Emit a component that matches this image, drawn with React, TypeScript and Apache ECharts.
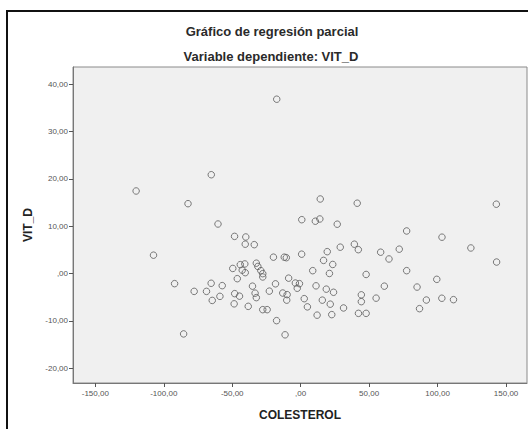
import React, { useEffect, useRef } from "react";
import * as echarts from "echarts";

// COLESTEROL (residual) values
const colesterol: number[] = [
  -120.2, -107.5, -65.3, -82.3, -60.4, -48.3, -40.1, -40.5, -33.9,
  14.3, 41.3, 142.9, 0.8, 10.7, 14.0, 26.7, 77.4, 103.2, 124.3, 143.1,
  28.9, 39.2, 42.1, 58.4, 64.5, 72.0,
  0.7, 19.4, 16.7, 23.4, 8.8, 21.0, 47.8, 77.4, 99.4, 85.0, 61.1,
  -3.9, -0.9, -2.5, 11.2, 18.7, 24.0, 2.6, 15.8, 21.6, 4.9, 31.3, 12.0, 22.7,
  44.3, 44.3, 55.1, 42.2, 47.8, 91.8, 103.1, 111.6, 86.8,
  -92.1, -77.8, -68.8, -65.4, -57.3, -64.6, -59.0,
  -49.6, -46.3, -44.1, -40.8, -42.7, -40.5, -32.4, -31.3, -29.1, -27.7, -27.7,
  -35.2, -33.3, -32.4, -48.2, -44.7, -48.6, -38.3, -27.7, -24.5,
  -22.9, -18.4, -19.9, -12.0, -10.5, -17.6, -11.4, -13.1, -9.9, -10.2, -8.8,
  -85.5, -17.5,
];

// VIT_D (residual) values
const vitD: number[] = [
  17.43, 3.88, 20.86, 14.75, 10.46, 7.85, 7.72, 6.2, 6.1,
  15.74, 14.85, 14.64, 11.37, 11.05, 11.52, 10.42, 8.99, 7.68, 5.4, 2.43,
  5.57, 6.2, 5.04, 4.51, 3.08, 5.15,
  4.09, 4.62, 2.78, 1.92, 0.61, 0.02, -0.19, 0.61, -1.22, -2.85, -2.66,
  -2.0, -2.13, -3.1, -2.59, -3.29, -3.95, -5.3, -5.61, -6.46, -7.03, -7.26, -8.78, -8.67,
  -4.49, -5.93, -5.19, -8.4, -8.4, -5.59, -5.21, -5.51, -7.41,
  -2.13, -3.76, -3.76, -2.05, -2.55, -5.67, -4.81,
  1.08, -1.08, 1.88, 2.03, 0.72, 0.19, 2.19, 1.5, 0.61, -0.02, -0.72,
  -2.66, -4.14, -5.08, -4.24, -4.77, -6.39, -6.92, -7.62, -7.62,
  -3.71, -2.17, 3.46, 3.46, 3.35, -9.94, -12.93, -4.11, -4.45, -5.61, -0.97,
  -12.74, 36.8,
];

const xTicks: number[] = [-150, -100, -50, 0, 50, 100, 150];
const yTicks: number[] = [-20, -10, 0, 10, 20, 30, 40];

const titleText = "Gráfico de regresión parcial";
const subtitleText = "Variable dependiente: VIT_D";
const xName = "COLESTEROL";
const yName = "VIT_D";

const fmt = (v: number) => {
  if (Math.abs(v) < 1e-9) return ",00";
  return v.toFixed(2).replace(".", ",");
};

const FONT = "'Liberation Sans', Arial, sans-serif";

export default function App() {
  const ref = useRef<HTMLDivElement>(null);
  useEffect(() => {
    if (!ref.current) return;
    const chart = echarts.init(ref.current, undefined, { renderer: "svg" });
    const data = colesterol.map((x, i) => [x, vitD[i]]);
    chart.setOption({
      animation: false,
      backgroundColor: "#ffffff",
      title: [
        {
          text: titleText,
          left: 272,
          top: 25,
          padding: 0,
          textAlign: "center",
          textStyle: { fontFamily: FONT, fontSize: 13, fontWeight: "bold", color: "#2a2a2a" },
        },
        {
          text: subtitleText,
          left: 271,
          top: 50,
          padding: 0,
          textAlign: "center",
          textStyle: { fontFamily: FONT, fontSize: 13, fontWeight: "bold", color: "#2a2a2a" },
        },
      ],
      graphic: [
        {
          type: "rect",
          shape: { x: 7, y: 11, width: 540, height: 440 },
          style: { fill: "none", stroke: "#111", lineWidth: 2 },
          silent: true,
          z: 100,
        },
      ],
      grid: {
        left: 73,
        top: 67,
        right: 1,
        bottom: 46,
        show: true,
        backgroundColor: "#f0f0f0",
        borderColor: "#8a8a8a",
        borderWidth: 1,
      },
      xAxis: {
        type: "value",
        min: -166.3,
        max: 165.3,
        name: xName,
        nameLocation: "middle",
        nameGap: 26,
        nameTextStyle: { fontFamily: FONT, fontSize: 12, fontWeight: "bold", color: "#222" },
        splitLine: { show: false },
        axisLine: { show: true, onZero: false, lineStyle: { color: "#777" } },
        axisTick: { show: true, length: 4, customValues: xTicks, lineStyle: { color: "#555" } },
        axisLabel: {
          customValues: xTicks,
          formatter: (v: number) => fmt(v),
          fontFamily: FONT,
          fontSize: 8,
          color: "#555",
          margin: 6,
        },
      },
      yAxis: {
        type: "value",
        min: -23.1,
        max: 43.6,
        name: yName,
        nameLocation: "middle",
        nameGap: 39,
        nameRotate: 90,
        nameTextStyle: { fontFamily: FONT, fontSize: 12, fontWeight: "bold", color: "#222" },
        splitLine: { show: false },
        axisLine: { show: true, onZero: false, lineStyle: { color: "#777" } },
        axisTick: { show: true, length: 4, customValues: yTicks, lineStyle: { color: "#555" } },
        axisLabel: {
          customValues: yTicks,
          formatter: (v: number) => fmt(v),
          fontFamily: FONT,
          fontSize: 8,
          color: "#555",
          margin: 5,
        },
      },
      series: [
        {
          type: "scatter",
          data,
          symbol: "circle",
          symbolSize: 6.5,
          itemStyle: { color: "rgba(0,0,0,0)", borderColor: "#5a5a5a", borderWidth: 1 },
        },
      ],
    });
    return () => chart.dispose();
  }, []);
  return (
    <div
      ref={ref}
      style={{ position: "fixed", left: 0, top: 0, width: 528, height: 429 }}
    />
  );
}
